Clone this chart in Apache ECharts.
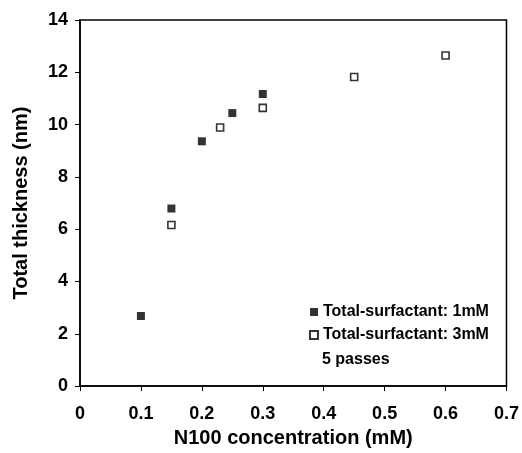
<!DOCTYPE html>
<html>
<head>
<meta charset="utf-8">
<script src="https://cdn.jsdelivr.net/npm/echarts@6/dist/echarts.min.js"></script>
<style>
  html, body { margin: 0; padding: 0; background: #fff; }
  #chart { width: 522px; height: 453px; }
</style>
</head>
<body>
<div id="chart"></div>
<script>
// N100 concentration (mM) vs total thickness (nm)
const seriesNames = ['Total-surfactant: 1mM', 'Total-surfactant: 3mM'];
const conc1mM = [0.10, 0.15, 0.20, 0.25, 0.30];
const thick1mM = [2.68, 6.79, 9.36, 10.44, 11.17];
const conc3mM = [0.15, 0.23, 0.30, 0.45, 0.60];
const thick3mM = [6.16, 9.89, 10.64, 11.82, 12.64];
const noteText = '5 passes';

const FONT = 'Liberation Sans, Arial, sans-serif';

function pairs(xs, ys) {
  return xs.map((x, i) => [x, ys[i]]);
}

const chart = echarts.init(document.getElementById('chart'), null, { renderer: 'canvas' });

chart.setOption({
  animation: false,
  backgroundColor: '#ffffff',
  textStyle: { fontFamily: FONT, color: '#000' },
  grid: {
    left: 80, right: 12, top: 20, bottom: 62,
    show: true, borderColor: '#000', borderWidth: 1.5, backgroundColor: 'transparent'
  },
  xAxis: {
    type: 'value',
    min: 0, max: 0.7, interval: 0.1,
    name: 'N100 concentration (mM)',
    nameLocation: 'middle',
    nameGap: 39,
    nameTextStyle: { fontFamily: FONT, fontSize: 20, fontWeight: 'bold', color: '#000' },
    axisLine: { show: true, lineStyle: { color: '#000', width: 1.5 } },
    axisTick: { show: true, inside: false, length: 5, lineStyle: { color: '#000', width: 1 } },
    axisLabel: { fontFamily: FONT, fontSize: 18, fontWeight: 'bold', color: '#000', margin: 19 },
    splitLine: { show: false }
  },
  yAxis: {
    type: 'value',
    min: 0, max: 14, interval: 2,
    name: 'Total thickness (nm)',
    nameLocation: 'middle',
    nameGap: 49,
    nameTextStyle: { fontFamily: FONT, fontSize: 20, fontWeight: 'bold', color: '#000' },
    axisLine: { show: true, lineStyle: { color: '#000', width: 1.5 } },
    axisTick: { show: true, inside: false, length: 5, lineStyle: { color: '#000', width: 1 } },
    axisLabel: { fontFamily: FONT, fontSize: 18, fontWeight: 'bold', color: '#000', margin: 12 },
    splitLine: { show: false }
  },
  legend: {
    orient: 'vertical',
    left: 304,
    top: 299,
    itemWidth: 8,
    itemHeight: 8,
    itemGap: 7,
    icon: 'rect',
    textStyle: { fontFamily: FONT, fontSize: 16, fontWeight: 'bold', color: '#000', padding: [0, 0, 0, 0] },
    data: seriesNames
  },
  graphic: [{
    type: 'text',
    left: 322,
    top: 352,
    style: { text: noteText, font: 'bold 16px ' + FONT, fill: '#000' }
  }],
  series: [
    {
      name: seriesNames[0],
      type: 'scatter',
      symbol: 'rect',
      symbolSize: 8,
      itemStyle: { color: '#000', borderColor: '#000', borderWidth: 0 },
      data: pairs(conc1mM, thick1mM)
    },
    {
      name: seriesNames[1],
      type: 'scatter',
      symbol: 'rect',
      symbolSize: 7,
      itemStyle: { color: '#fff', borderColor: '#000', borderWidth: 1.6 },
      data: pairs(conc3mM, thick3mM)
    }
  ]
});
</script>
</body>
</html>
